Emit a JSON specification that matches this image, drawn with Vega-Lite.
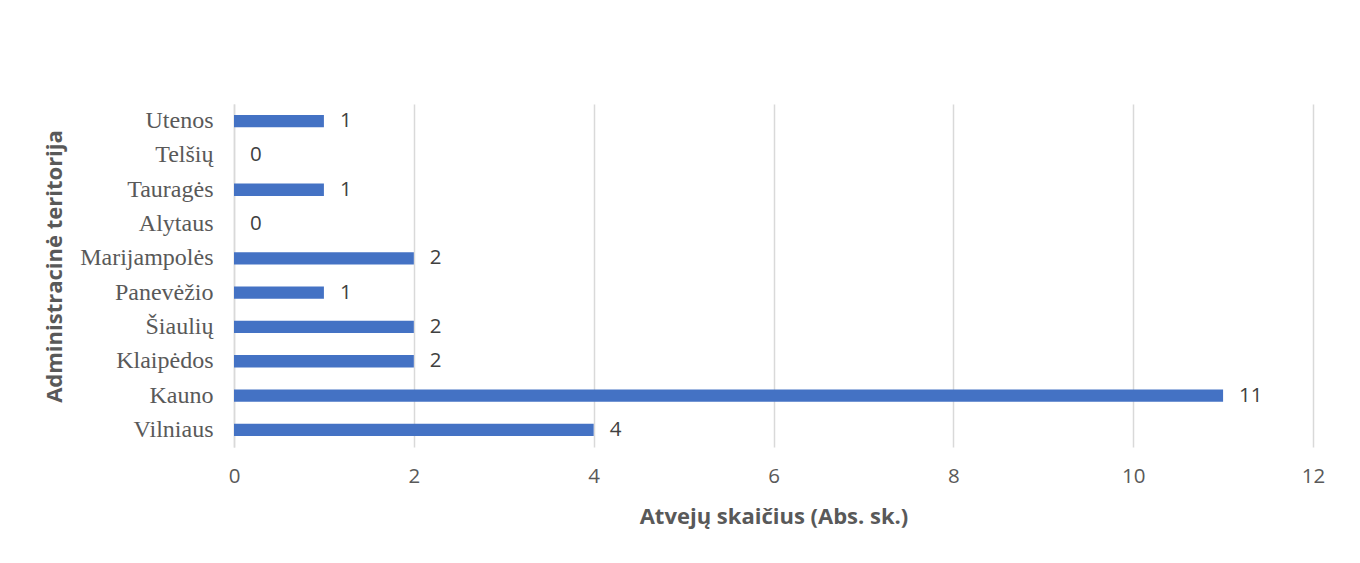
{
  "$schema": "https://vega.github.io/schema/vega-lite/v6.json",
  "width": 1079,
  "height": 343,
  "autosize": {"type": "none"},
  "padding": {"left": 234, "top": 104, "right": 47, "bottom": 116},
  "background": "white",
  "config": {"view": {"stroke": null}},
  "data": {"values": [
    {"teritorija": "Utenos", "atvejai": 1},
    {"teritorija": "Telšių", "atvejai": 0},
    {"teritorija": "Tauragės", "atvejai": 1},
    {"teritorija": "Alytaus", "atvejai": 0},
    {"teritorija": "Marijampolės", "atvejai": 2},
    {"teritorija": "Panevėžio", "atvejai": 1},
    {"teritorija": "Šiaulių", "atvejai": 2},
    {"teritorija": "Klaipėdos", "atvejai": 2},
    {"teritorija": "Kauno", "atvejai": 11},
    {"teritorija": "Vilniaus", "atvejai": 4}
  ]},
  "encoding": {
    "y": {
      "field": "teritorija", "type": "nominal", "sort": null,
      "scale": {"paddingInner": 0.64, "paddingOuter": 0.32},
      "axis": {
        "title": "Administracinė teritorija",
        "titleFont": "Open Sans", "titleFontSize": 22, "titleFontWeight": "bold", "titleColor": "#595959",
        "titleX": -168, "titleY": 162, "titleAngle": -90,
        "labelFont": "Liberation Serif", "labelFontSize": 24, "labelColor": "#595959",
        "labelPadding": 21, "ticks": false,
        "domain": true, "domainColor": "#d9d9d9", "domainWidth": 1.5
      }
    },
    "x": {
      "field": "atvejai", "type": "quantitative",
      "scale": {"domain": [0, 12], "nice": false},
      "axis": {
        "title": "Atvejų skaičius (Abs. sk.)",
        "titleFont": "Open Sans", "titleFontSize": 22, "titleFontWeight": "bold", "titleColor": "#595959",
        "titlePadding": 20,
        "values": [0, 2, 4, 6, 8, 10, 12],
        "labelFont": "Open Sans", "labelFontSize": 20.5, "labelColor": "#595959",
        "labelPadding": 19, "labelFlush": false, "ticks": false, "domain": false,
        "grid": true, "gridColor": "#d9d9d9", "gridWidth": 1.5
      }
    }
  },
  "layer": [
    {"mark": {"type": "bar", "color": "#4472C4"}},
    {
      "mark": {"type": "text", "align": "left", "baseline": "middle", "dx": 16, "font": "Open Sans", "fontSize": 20.5, "color": "#404040"},
      "encoding": {"text": {"field": "atvejai", "type": "quantitative"}}
    }
  ]
}
